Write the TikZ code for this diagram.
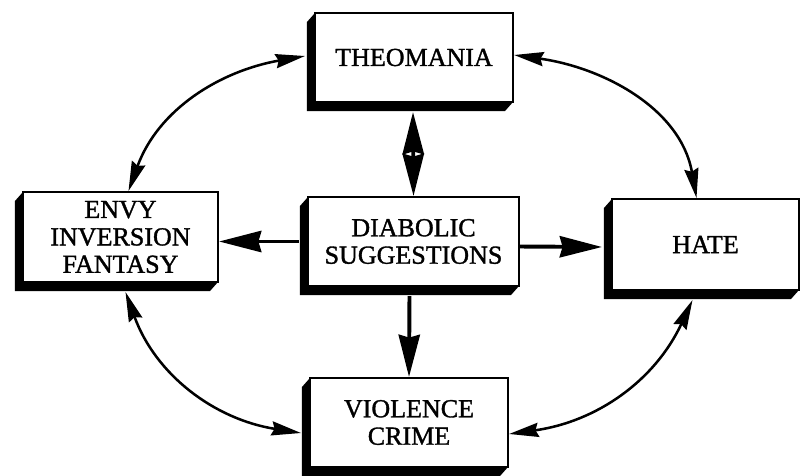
\documentclass[tikz,border=0pt]{standalone}
\usepackage{fontspec}
\setmainfont{Liberation Serif}
\newfontfamily\boxfont{Liberation Serif}[FakeBold=1.3]
\usetikzlibrary{arrows.meta,calc,positioning}

% black side and bottom faces of a box
\newcommand{\boxshadow}[1]{%
  \fill (#1.north west) -- ++(-8,-9) -- ($(#1.south west)+(-8,-9)$)
    -- ($(#1.south east)+(-8,-9)$) -- (#1.south east) -- (#1.south west) -- cycle;}

\begin{document}
\begin{tikzpicture}[x=0.025cm,y=0.025cm,
  blockbox/.style={draw,line width=2pt,fill=white,align=center,inner sep=0pt,outer sep=0pt,
    font=\boxfont\fontsize{18.5}{19.5}\selectfont},
  bigarrow/.style={line width=2.8pt,-{Stealth[length=30pt,width=15pt,inset=2pt]}},
  bigboth/.style={line width=2.8pt,
    {Stealth[length=30pt,width=15pt,inset=2pt]}-{Stealth[length=30pt,width=15pt,inset=2pt]}},
  loopboth/.style={line width=1.8pt,
    {Stealth[length=21pt,width=10pt,inset=2pt]}-{Stealth[length=21pt,width=10pt,inset=2pt]}}]
\fill[white] (0,0) rectangle (802,475);
\useasboundingbox (0,0) rectangle (802,475);

\node[blockbox,minimum width=4.95cm,minimum height=2.225cm] (theo) at (414,417.5) {THEOMANIA};
\node[blockbox,minimum width=5.275cm,minimum height=2.225cm] (diab) at (413.5,233.5) {DIABOLIC\\SUGGESTIONS};
\node[blockbox,minimum width=4.875cm,minimum height=2.25cm] (envy) at (120.5,238) {ENVY\\INVERSION\\FANTASY};
\node[blockbox,minimum width=4.675cm,minimum height=2.275cm] (hate) at (705.5,230.5) {HATE};
\node[blockbox,minimum width=4.95cm,minimum height=2.225cm] (vio) at (409,52.5) {VIOLENCE\\CRIME};
\foreach \b in {theo,diab,envy,hate,vio} {\boxshadow{\b}}

% straight arrows out of the centre
\draw[bigboth] ($(theo.south)+(-1,-10)$) -- ($(diab.north)+(0,1)$);
\draw[bigarrow] ($(diab.west)+(-9,0)$) -- ($(envy.east |- diab.west)+(1,0)$);
\draw[bigarrow] ($(diab.east)+(0,-5)$) -- ($(hate.west)+(-10,-2.5)$);
\draw[bigarrow] ($(diab.south)+(-4,-10)$) -- ($(vio.north)+(0,1)$);

% outer ring
\draw[loopboth] ($(envy.north)+(8,1)$) to[out=70,in=190] ($(theo.west)+(-10,1.5)$);
\draw[loopboth] ($(theo.east)+(1,2.5)$) to[out=-8,in=100] ($(hate.north)+(-9,1)$);
\draw[loopboth] ($(envy.south)+(5,-10)$) to[out=-70,in=171] ($(vio.west)+(-9,-10.5)$);
\draw[loopboth] ($(hate.south)+(-13,-10)$) to[out=-115,in=8] ($(vio.east)+(1,-11.5)$);
\end{tikzpicture}
\end{document}
